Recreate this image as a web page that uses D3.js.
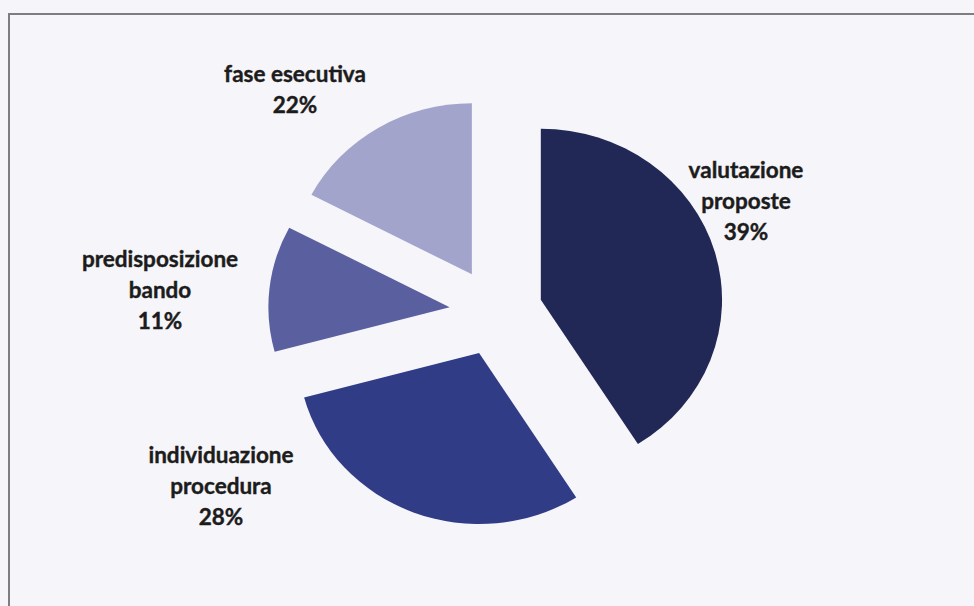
<!DOCTYPE html>
<html>
<head>
<meta charset="utf-8">
<script src="https://cdn.jsdelivr.net/npm/d3@7/dist/d3.min.js"></script>
<style>
  html, body { margin: 0; padding: 0; background: #f6f5f9; }
  svg { display: block; }
</style>
</head>
<body>
<svg id="chart" width="974" height="606"></svg>
<script>
// ---- data (slice sizes; labels as printed) ----
const categories = ["valutazione proposte", "individuazione procedura", "predisposizione bando", "fase esecutiva"];
const labelLines = [["valutazione", "proposte"], ["individuazione", "procedura"], ["predisposizione", "bando"], ["fase esecutiva"]];
const sliceShares = [41.0, 29.8, 11.9, 17.3];
const percentLabels = ["39%", "28%", "11%", "22%"];
const colors = ["#212856", "#303c86", "#5a5fa0", "#a3a4cc"];

// ---- layout ----
const W = 974, H = 606;
const cx = 496, cy = 312, R = 171, explode = 44, xStretch = 1.06;
const labelPos = [[746, 178], [221, 463], [160, 267], [295, 82]];
const lineGap = 31;

const svg = d3.select("#chart");

svg.append("rect").attr("x", 0).attr("y", 0).attr("width", W).attr("height", H).attr("fill", "#f6f5f9");
// frame (left and top edges visible)
svg.append("path")
  .attr("d", `M9,${H + 5} L9,14 L${W + 5},14`)
  .attr("fill", "none").attr("stroke", "#7d7d82").attr("stroke-width", 2);

const pie = d3.pie().sort(null).value(d => d);
const arcs = pie(sliceShares);
const arc = d3.arc().innerRadius(0).outerRadius(R);

const g = svg.append("g").attr("transform", `translate(${cx},${cy}) scale(${xStretch},1)`);

g.selectAll("path.slice")
  .data(arcs)
  .join("path")
  .attr("class", "slice")
  .attr("d", arc)
  .attr("fill", (d, i) => colors[i])
  .attr("transform", d => {
    const a = (d.startAngle + d.endAngle) / 2;
    return `translate(${explode * Math.sin(a)},${-explode * Math.cos(a)})`;
  });

// labels
const lg = svg.append("g")
  .attr("font-family", "Lato, 'Open Sans', sans-serif")
  .attr("font-weight", "bold")
  .attr("font-size", 22.5)
  .attr("fill", "#1c1c1c")
  .attr("stroke", "#1c1c1c")
  .attr("stroke-width", 0.4)
  .attr("text-anchor", "middle");

categories.forEach((c, i) => {
  const [x, y] = labelPos[i];
  const lines = labelLines[i].concat([percentLabels[i]]);
  const t = lg.append("text").attr("x", x).attr("y", y);
  lines.forEach((ln, k) => {
    t.append("tspan").attr("x", x).attr("y", y + k * lineGap).text(ln);
  });
});
</script>
</body>
</html>
